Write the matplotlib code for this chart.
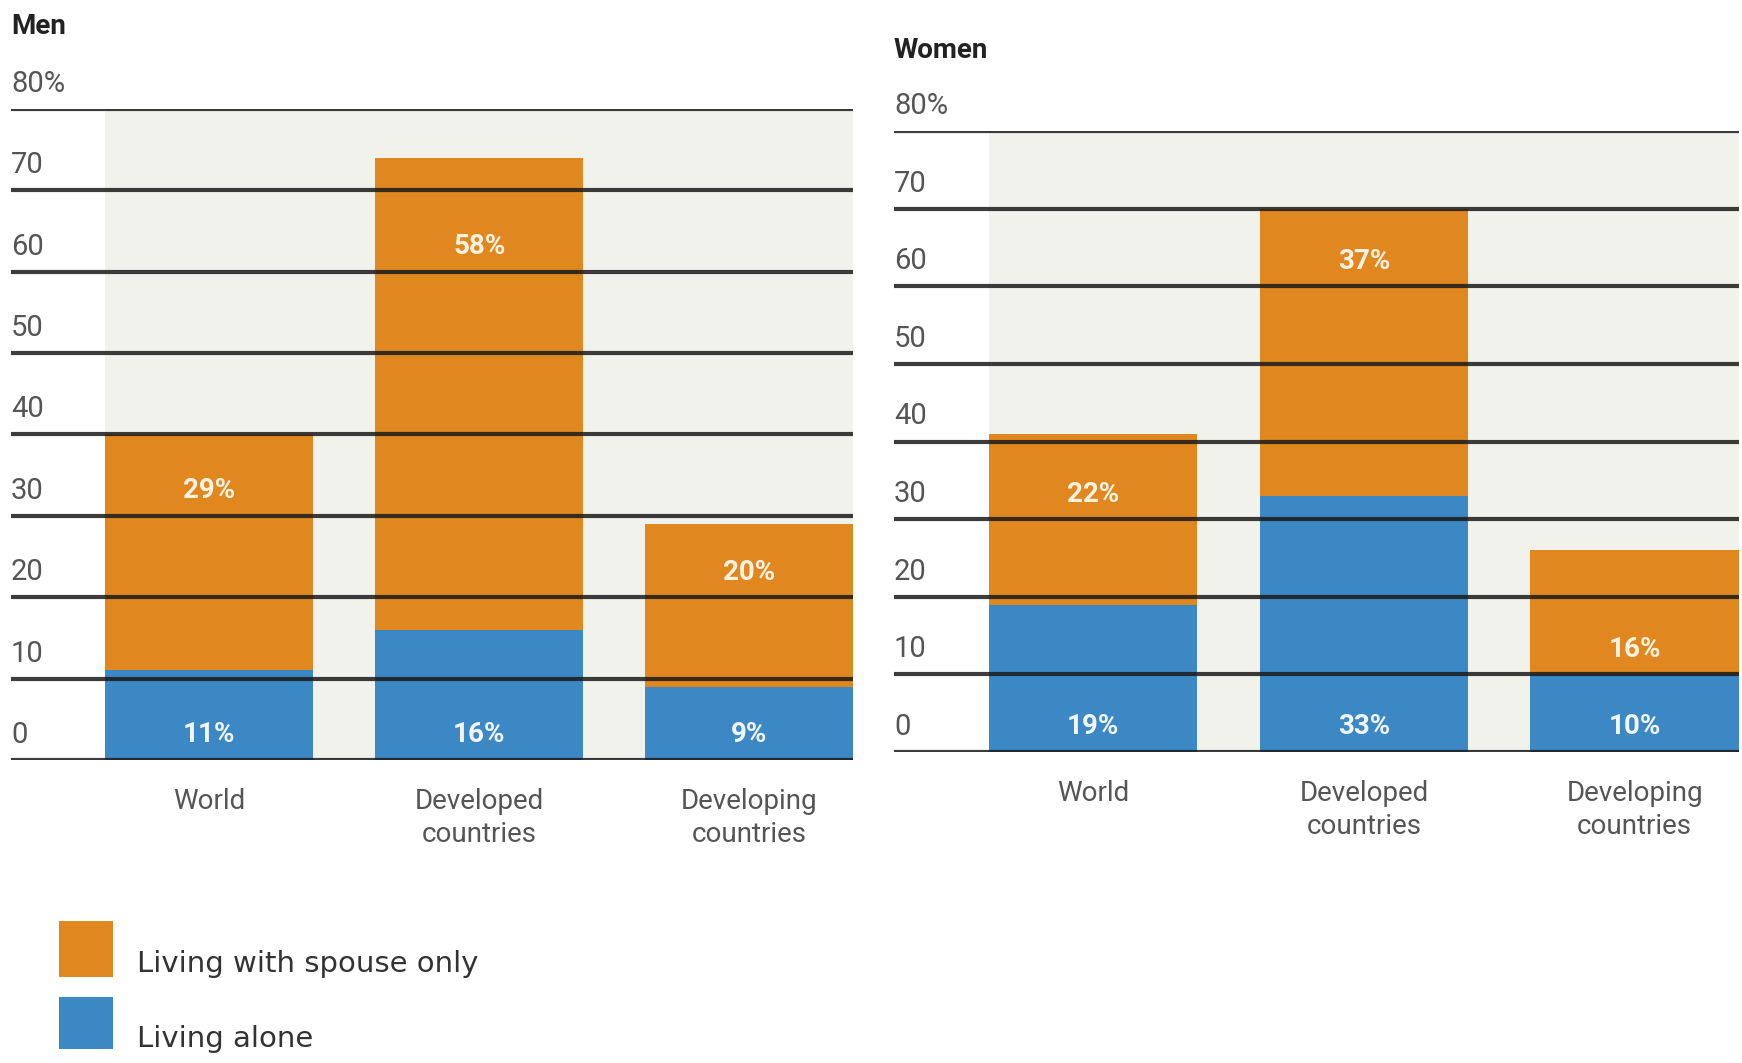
import matplotlib
matplotlib.use('Agg')
import matplotlib.pyplot as plt
from matplotlib.patches import Rectangle

# ---------------- data ----------------
categories = ['World', 'Developed\ncountries', 'Developing\ncountries']
men_alone = [11, 16, 9]
men_spouse = [29, 58, 20]
women_alone = [19, 33, 10]
women_spouse = [22, 37, 16]
ytick_values = [0, 10, 20, 30, 40, 50, 60, 70, 80]
ytick_labels = ['0', '10', '20', '30', '40', '50', '60', '70', '80%']
legend_labels = ['Living with spouse only', 'Living alone']

# layout: gridline band in which each "spouse" label sits
men_spouse_band = [30, 60, 20]
women_spouse_band = [30, 60, 10]

ORANGE = '#E0881F'
BLUE = '#3B88C4'
BG = '#F2F2EC'
GRID = '#1a1a1a'
TXT = '#555555'
plt.rcParams['font.family'] = ['Roboto', 'DejaVu Sans']

W, H = 1742, 1063
fig = plt.figure(figsize=(W / 100, H / 100), dpi=100)


def rect(l, t, r, b):
    return [l / W, 1 - b / H, (r - l) / W, (b - t) / H]


def panel(ax, alone, spouse, bands, title, title_xy):
    x = range(len(categories))
    ax.set_xlim(-0.735, 2.385)
    ax.set_ylim(0, 80)
    ax.axis('off')
    ax.axvspan(-0.385, 2.385, color=BG, zorder=0, lw=0)
    ax.bar(x, alone, width=0.77, color=BLUE, zorder=1, lw=0)
    ax.bar(x, spouse, bottom=alone, width=0.77, color=ORANGE, zorder=1, lw=0)
    for v in ytick_values:
        ax.axhline(v, color=GRID, lw=3.0, alpha=0.85, zorder=3)
    for v, lab in zip(ytick_values, ytick_labels):
        ax.annotate(lab, xy=(0, v), xycoords=('axes fraction', 'data'),
                    xytext=(0, 18), textcoords='offset points',
                    ha='left', va='center', fontsize=21, color=TXT)
    for i, (a, s, b) in enumerate(zip(alone, spouse, bands)):
        ax.annotate(f'{a}%', xy=(i, 0), xytext=(0, 18), textcoords='offset points',
                    ha='center', va='center', fontsize=20, fontweight='bold',
                    color='#F2F5FA', zorder=4)
        ax.annotate(f'{s}%', xy=(i, b), xytext=(0, 18), textcoords='offset points',
                    ha='center', va='center', fontsize=20, fontweight='bold',
                    color='#FFF2E2', zorder=4)
        ax.annotate(categories[i], xy=(i, 0), xytext=(0, -20), textcoords='offset points',
                    ha='center', va='top', fontsize=20, color=TXT, linespacing=1.3)
    fig.text(title_xy[0] / W, 1 - title_xy[1] / H, title, fontsize=20,
             fontweight='bold', color='#222222', ha='left', va='center')


men_ax = fig.add_axes(rect(11, 109, 853, 760))
panel(men_ax, men_alone, men_spouse, men_spouse_band, 'Men', (11, 26))
women_ax = fig.add_axes(rect(894, 131, 1739, 752))
panel(women_ax, women_alone, women_spouse, women_spouse_band, 'Women', (894, 51))

# legend
for (top, bottom, ty), col, lab in zip([(921, 977, 964), (997, 1049, 1039)],
                                       [ORANGE, BLUE], legend_labels):
    fig.patches.append(Rectangle((59 / W, 1 - bottom / H), 54 / W, (bottom - top) / H,
                                 transform=fig.transFigure, color=col, lw=0))
    fig.text(137 / W, 1 - ty / H, lab, fontsize=21, color='#333333',
             ha='left', va='center', family=['DejaVu Sans'])

fig.savefig('out.png', dpi=100, facecolor='white')
